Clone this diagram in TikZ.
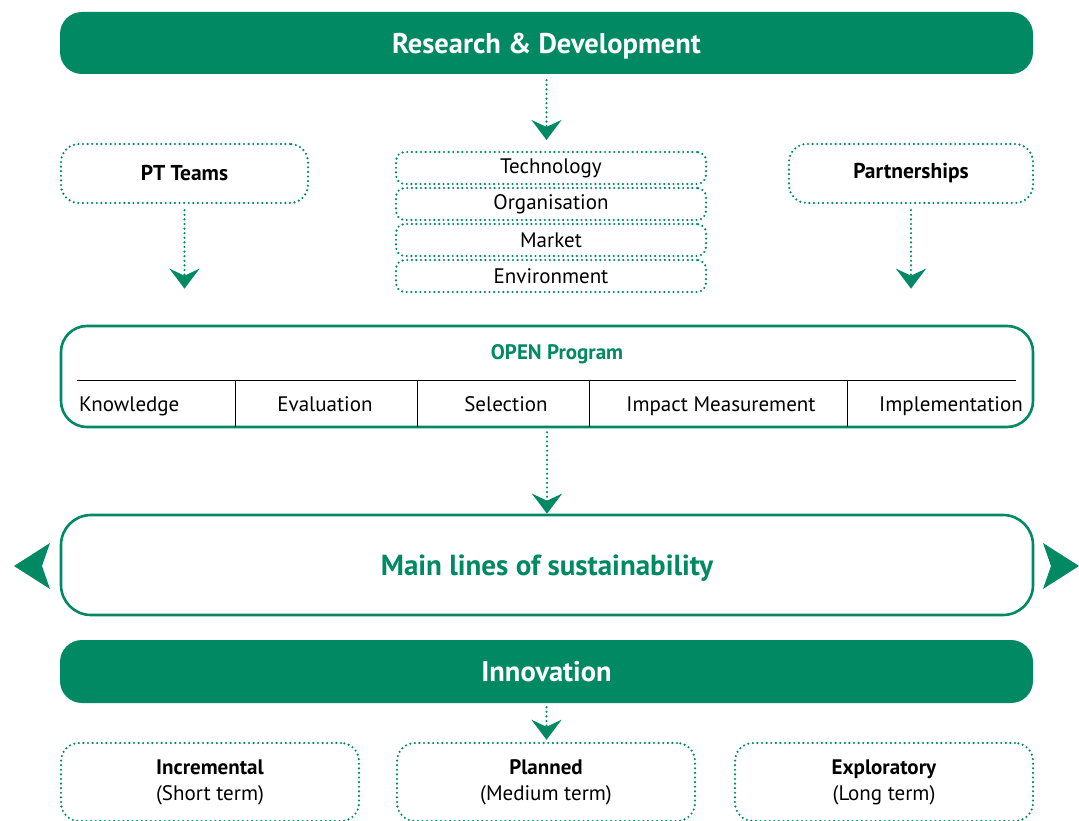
\documentclass[tikz,border=0pt]{standalone}
\usepackage{fontspec}
\setmainfont{PT Sans}
\usetikzlibrary{arrows.meta, positioning}
\definecolor{opengreen}{RGB}{0,137,98}

\begin{document}
\begin{tikzpicture}[x=1pt, y=-1pt, every node/.style={font=\fontsize{21}{26}\selectfont}]
\tikzstyle{bar} = [rectangle, rounded corners=22pt, minimum width=973pt, minimum height=62pt, text depth=0pt, fill=opengreen, text=white, font=\bfseries\fontsize{28.5}{32}\selectfont]
\tikzstyle{dotbox} = [rectangle, rounded corners=18pt, draw=opengreen, line width=2.4pt, dash pattern=on 0pt off 4.6pt, line cap=round, align=center]
\tikzstyle{layer} = [dotbox, rounded corners=9pt, minimum width=310pt, minimum height=32pt, inner sep=0pt, outer sep=0pt]
\tikzstyle{frame} = [rectangle, rounded corners=26pt, draw=opengreen, line width=2.6pt, minimum width=972pt]
\tikzstyle{arrow} = [line width=2.4pt, draw=opengreen, dash pattern=on 0pt off 4.6pt, line cap=round, -{Stealth[length=20pt, width=30pt, inset=7pt, fill=opengreen]}]
\useasboundingbox (0,0) rectangle (1079,821);

% Top bar and the three inputs
\node (rd) [bar] at (546.5,43) {Research \& Development};
\node (teams) [dotbox, minimum width=247pt, minimum height=59pt, font=\bfseries\fontsize{21.5}{26}\selectfont] at (184.5,173.5) {PT Teams};
\node (tech) [layer] at (551,168) {Technology};
\node (orga) [layer, below=4pt of tech] {Organisation};
\node (market) [layer, below=4pt of orga] {Market};
\node (env) [layer, below=4pt of market] {Environment};
\node (partners) [dotbox, minimum width=244pt, minimum height=59pt, font=\bfseries\fontsize{21.5}{26}\selectfont] at (911,173.5) {Partnerships};

% OPEN program with its phases
\node (open) [frame] [minimum height=101pt] at (547,376.5) {};
\node (opentitle) [text=opengreen, font=\bfseries\fontsize{21}{26}\selectfont] at (557,354) {OPEN Program};
\draw [line width=0.8pt] (77,380) -- (1016,380);
\foreach \x in {235,417,589,847}
  \draw [line width=0.8pt] (\x,380) -- (\x,427);
\node (know) [anchor=base west, inner sep=0pt] at (79,411) {Knowledge};
\node (eval) [anchor=base] at (325,411) {Evaluation};
\node (select) [anchor=base] at (506,411) {Selection};
\node (impact) [anchor=base] at (721,411) {Impact Measurement};
\node (impl) [anchor=base] at (951,411) {Implementation};

% Sustainability lines
\node (main) [frame, rounded corners=30pt, minimum height=100pt, text depth=0pt, text=opengreen, font=\bfseries\fontsize{29}{34}\selectfont] at (547,565) {Main lines of sustainability};
\fill [opengreen] (14,566) -- (50,543) -- (42,566) -- (50,589) -- cycle;
\fill [opengreen] (1079,566) -- (1043,543) -- (1051,566) -- (1043,589) -- cycle;

% Innovation and its horizons
\node (inno) [bar, minimum height=63pt] at (546.5,671.5) {Innovation};
\node (incr) [dotbox, minimum width=298pt, minimum height=78pt] at (210,782) {\textbf{Incremental}\\(Short term)};
\node (plan) [dotbox, minimum width=298pt, minimum height=78pt] at (546,782) {\textbf{Planned}\\(Medium term)};
\node (explo) [dotbox, minimum width=298pt, minimum height=78pt] at (884,782) {\textbf{Exploratory}\\(Long term)};

% Arrows
\draw [arrow, shorten <=6pt, shorten >=12pt] (rd.south) -- (rd.south |- tech.north);
\draw [arrow, shorten <=6pt, shorten >=36pt] (teams.south) -- (teams.south |- open.north);
\draw [arrow, shorten <=6pt, shorten >=36pt] (partners.south) -- (partners.south |- open.north);
\draw [arrow, shorten <=4pt] (open.south) -- (main.north);
\draw [arrow, shorten <=4pt, shorten >=2pt] (inno.south) -- (inno.south |- plan.north);

\end{tikzpicture}
\end{document}
